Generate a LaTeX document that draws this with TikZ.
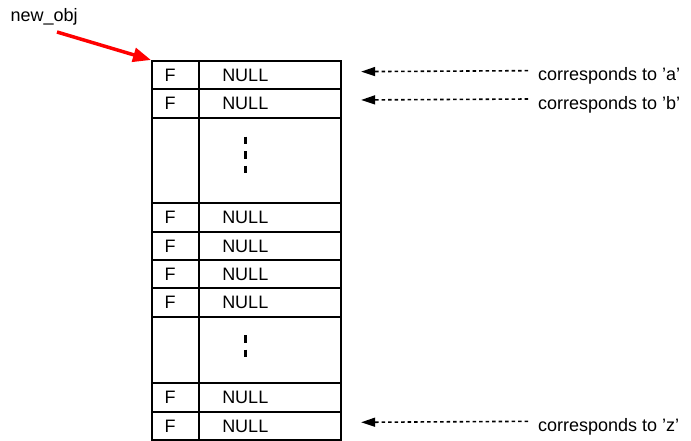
\documentclass[tikz,border=0pt]{standalone}
\usepackage{fontspec}
\setmainfont{Liberation Sans}
\usetikzlibrary{arrows.meta}
\tikzset{
  txt/.style={font=\fontsize{18}{20}\selectfont, inner sep=0pt},
  cell/.style={draw, line width=1.9pt, anchor=north west, inner ysep=0pt,
    text height=13pt, text depth=0pt, font=\fontsize{18}{20}\selectfont},
  fcell/.style={cell, minimum width=47pt, text width=21.8pt, inner xsep=12.6pt,
    align=left, minimum height=28.33pt},
  ncell/.style={cell, minimum width=142pt, text width=95.4pt, inner xsep=23.3pt,
    align=left, minimum height=28.33pt},
  gapl/.style={cell, minimum width=47pt},
  gapr/.style={cell, minimum width=142pt},
  darr/.style={line width=1.6pt, dash pattern=on 3.5pt off 3pt,
    -{Triangle[length=14pt,width=9pt]}},
  redarr/.style={draw=red, line width=3.5pt, -{Triangle[length=18pt,width=14pt,fill=red]}},
  dotline/.style={line width=3pt, dash pattern=on 7.5pt off 7pt},
}
\begin{document}
\begin{tikzpicture}[x=1pt,y=-1pt]
\useasboundingbox (0,0) rectangle (691,440);
% rows
\node[fcell] (f1) at (151,60) {F};
\node[ncell] (n1) at (198,60) {NULL};
\node[fcell] (f2) at (151,88.33) {F};
\node[ncell] (n2) at (198,88.33) {NULL};
\node[gapl, minimum height=85.67pt] (g1l) at (151,116.67) {};
\node[gapr, minimum height=85.67pt] (g1r) at (198,116.67) {};
\node[fcell] (f3) at (151,202.33) {F};
\node[ncell] (n3) at (198,202.33) {NULL};
\node[fcell] (f4) at (151,230.67) {F};
\node[ncell] (n4) at (198,230.67) {NULL};
\node[fcell] (f5) at (151,259) {F};
\node[ncell] (n5) at (198,259) {NULL};
\node[fcell] (f6) at (151,287.33) {F};
\node[ncell] (n6) at (198,287.33) {NULL};
\node[gapl, minimum height=66.67pt] (g2l) at (151,315.67) {};
\node[gapr, minimum height=66.67pt] (g2r) at (198,315.67) {};
\node[fcell] (f7) at (151,382.33) {F};
\node[ncell] (n7) at (198,382.33) {NULL};
\node[fcell] (f8) at (151,410.67) {F};
\node[ncell] (n8) at (198,410.67) {NULL};
% vertical dots
\draw[dotline] (245,136.5) -- (245,173.5);
\draw[dotline] (245,335) -- (245,357.3);
% labels
\node[txt, anchor=base west] (la) at (538,80.67) {corresponds to ’a’};
\node[txt, anchor=base west] (lb) at (538,109) {corresponds to ’b’};
\node[txt, anchor=base west] (lz) at (538,431.33) {corresponds to ’z’};
\node[txt, anchor=base west] (no) at (10.5,21.7) {new\_obj};
% arrows
\draw[darr] ([shift={(-10pt,10pt)}]la.base west) -- ([shift={(19.3pt,3.5pt)}]n1.east);
\draw[darr] ([shift={(-10pt,10pt)}]lb.base west) -- ([shift={(19.3pt,3.5pt)}]n2.east);
\draw[darr] ([shift={(-10pt,10pt)}]lz.base west) -- ([shift={(19.3pt,3.5pt)}]n8.east);
\draw[redarr] ([shift={(46.5pt,-10.3pt)}]no.base west) -- (f1.north west);
\end{tikzpicture}
\end{document}
